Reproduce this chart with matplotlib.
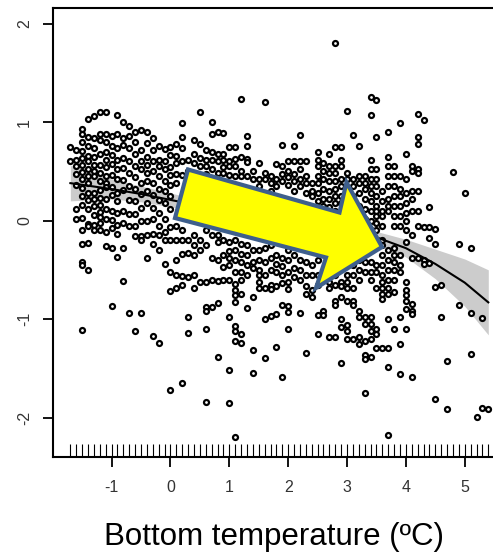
import numpy as np
import matplotlib.pyplot as plt
from matplotlib.patches import Polygon
import matplotlib.transforms as mtrans

plt.rcParams['font.family'] = ['Liberation Sans', 'DejaVu Sans']

# partial residuals, grouped by bottom temperature (0.1 degC columns)
temp = [-1.7, -1.6, -1.5, -1.4, -1.3, -1.2, -1.1, -1.0, -0.9, -0.8,
        -0.7, -0.6, -0.5, -0.4, -0.3, -0.2, -0.1, 0.0, 0.1, 0.2,
        0.3, 0.4, 0.5, 0.6, 0.7, 0.8, 0.9, 1.0, 1.1, 1.2,
        1.3, 1.4, 1.5, 1.6, 1.7, 1.8, 1.9, 2.0, 2.1, 2.2,
        2.3, 2.4, 2.5, 2.6, 2.7, 2.8, 2.9, 3.0, 3.1, 3.2,
        3.3, 3.4, 3.5, 3.6, 3.7, 3.8, 3.9, 4.0, 4.1, 4.2,
        4.3, 4.4, 4.5, 4.6, 4.7, 4.8, 4.9, 5.0, 5.1, 5.2,
        5.3, 5.4]
resid = [
    [0.75, 0.6],
    [0.72, 0.62, 0.55, 0.47, 0.36, 0.12, 0.02],
    [0.93, 0.88, 0.8, 0.71, 0.64, 0.56, 0.49, 0.42, 0.33, 0.25, 0.16, 0.03, -0.1, -0.24, -0.42, -0.45, -1.11],
    [1.03, 0.85, 0.76, 0.66, 0.6, 0.52, 0.45, 0.38, 0.28, 0.21, 0.12, -0.03, -0.05, -0.23, -0.5],
    [1.06, 0.84, 0.74, 0.65, 0.56, 0.5, 0.45, 0.28, 0.22, 0.15, 0.06, -0.04, -0.1],
    [1.1, 0.88, 0.82, 0.68, 0.56, 0.48, 0.4, 0.31, 0.23, 0.16, 0.09, 0.04, -0.02, -0.1],
    [1.1, 0.88, 0.8, 0.7, 0.62, 0.54, 0.45, 0.38, 0.34, 0.22, 0.12, 0.02, -0.12, -0.26],
    [0.86, 0.76, 0.67, 0.57, 0.46, 0.34, 0.26, 0.1, 0.01, -0.08, -0.28, -0.87],
    [1.07, 0.88, 0.74, 0.62, 0.52, 0.42, 0.28, 0.2, 0.08, -0.04, -0.14, -0.37],
    [1.0, 0.84, 0.77, 0.64, 0.53, 0.41, 0.31, 0.1, -0.02, -0.28, -0.61],
    [0.96, 0.86, 0.74, 0.6, 0.48, 0.35, 0.21, 0.07, -0.06, -0.94],
    [0.9, 0.8, 0.68, 0.55, 0.44, 0.32, 0.2, 0.07, -0.05, -0.16, -1.12],
    [0.92, 0.72, 0.6, 0.52, 0.38, 0.27, 0.13, 0.0, -0.16, -0.2, -0.94],
    [0.9, 0.79, 0.65, 0.56, 0.48, 0.4, 0.3, 0.18, 0.0, -0.15, -0.38],
    [0.84, 0.72, 0.6, 0.5, 0.38, 0.26, 0.13, 0.02, -0.14, -0.24, -1.17],
    [0.76, 0.62, 0.55, 0.45, 0.32, 0.21, 0.08, -0.05, -0.15, -0.3, -1.24],
    [0.73, 0.6, 0.52, 0.4, 0.3, 0.18, 0.02, -0.12, -0.2, -0.44],
    [0.75, 0.67, 0.54, 0.46, 0.36, 0.25, 0.12, -0.07, -0.2, -0.52, -0.71, -1.72],
    [0.78, 0.66, 0.58, 0.47, 0.38, -0.05, -0.2, -0.4, -0.55, -0.68],
    [0.99, 0.85, 0.74, 0.6, 0.46, -0.1, -0.2, -0.34, -0.56, -0.65, -1.65],
    [0.62, 0.5, -0.2, -0.33, -0.57, -0.98, -1.14],
    [0.82, 0.68, 0.58, -0.15, -0.25, -0.35, -0.55, -0.68],
    [1.1, 0.78, 0.64, 0.55, -0.2, -0.3, -0.62],
    [0.72, 0.62, 0.55, 0.47, 0.4, -0.1, -0.25, -0.62, -0.88, -0.92, -1.1, -1.84],
    [1.0, 0.88, 0.7, 0.62, 0.52, -0.15, -0.38, -0.6, -0.88],
    [0.9, 0.68, 0.6, 0.48, -0.15, -0.22, -0.4, -0.61, -0.84, -1.38],
    [0.89, 0.68, 0.62, 0.54, 0.48, -0.2, -0.35, -0.47, -0.6],
    [0.75, 0.6, 0.55, 0.46, -0.22, -0.31, -0.38, -0.45, -0.6, -0.98, -1.52, -1.85],
    [0.75, 0.63, 0.55, 0.45, -0.2, -0.3, -0.4, -0.52, -0.64, -0.7, -0.76, -0.83, -1.07, -1.12, -1.22, -2.2],
    [1.23, 0.65, 0.5, 0.45, -0.24, -0.34, -0.42, -0.52, -0.6, -0.75, -1.15, -1.24],
    [0.86, 0.76, 0.63, 0.59, 0.45, -0.25, -0.35, -0.45, -0.55, -0.89],
    [0.5, 0.42, -0.3, -0.42, -0.48, -0.78, -1.31, -1.55],
    [0.58, 0.42, 0.35, -0.3, -0.4, -0.5, -0.55, -0.62, -0.68],
    [1.2, 0.48, 0.42, -0.28, -0.42, -0.55, -0.68, -1.0, -1.39],
    [0.45, 0.38, 0.3, -0.25, -0.38, -0.5, -0.65, -0.69, -0.97],
    [0.57, 0.42, 0.35, -0.35, -0.44, -0.52, -0.66, -0.95, -1.28],
    [0.77, 0.55, 0.47, 0.4, -0.38, -0.46, -0.55, -0.63, -0.86, -1.59],
    [0.6, 0.5, 0.44, 0.36, -0.3, -0.4, -0.52, -0.62, -0.69, -0.87, -0.93, -1.1],
    [0.76, 0.6, 0.47, 0.4, 0.3, -0.35, -0.48, -0.57],
    [0.87, 0.6, 0.52, 0.42, 0.35, -0.4, -0.5, -0.6, -0.94],
    [0.6, 0.45, 0.38, 0.28, -0.42, -0.55, -0.66, -0.75, -1.34],
    [0.38, 0.3, 0.25, -0.45, -0.55, -0.7, -0.78],
    [0.7, 0.62, 0.55, 0.45, 0.38, 0.28, 0.2, -0.4, -0.55, -0.65, -0.96, -1.15],
    [0.58, 0.5, 0.42, 0.32, 0.22, 0.15, -0.55, -0.92, -0.96],
    [0.68, 0.55, 0.48, 0.4, 0.3, 0.22, 0.14, 0.05, -0.62, -0.68, -1.18],
    [1.8, 0.75, 0.55, 0.48, 0.4, 0.32, 0.25, 0.18, 0.1, -0.55, -0.65, -0.82, -0.86, -1.18],
    [0.75, 0.62, 0.55, 0.42, 0.35, 0.25, 0.18, -0.48, -0.62, -0.66, -0.78, -1.0, -1.08, -1.45],
    [1.11, 0.48, 0.42, 0.32, 0.15, -0.55, -0.62, -0.68, -0.82, -1.06, -1.12, -1.2],
    [0.87, 0.42, 0.35, 0.25, -0.45, -0.55, -0.68, -0.82, -0.86, -1.2],
    [0.76, 0.45, 0.38, 0.28, 0.15, -0.4, -0.5, -0.6, -0.92, -0.98, -1.18, -1.25],
    [0.45, 0.38, 0.32, 0.22, 0.12, 0.02, -0.42, -0.52, -0.98, -1.05, -1.22, -1.36, -1.41, -1.75],
    [1.25, 1.07, 0.62, 0.52, 0.42, 0.35, 0.28, 0.2, 0.1, 0.0, -0.1, -0.42, -0.52, -0.6, -0.98, -1.05, -1.12, -1.2, -1.38],
    [1.22, 0.85, 0.52, 0.42, 0.35, 0.25, 0.15, 0.1, 0.05, -0.02, -0.1, -0.2, -0.45, -0.52, -0.68, -1.1, -1.15, -1.29],
    [0.3, 0.2, 0.1, 0.05, -0.05, -0.2, -0.25, -0.35, -0.45, -0.55, -0.62, -0.68, -0.75, -0.8, -1.29],
    [0.9, 0.65, 0.55, 0.45, 0.35, 0.22, 0.15, 0.1, -0.3, -0.4, -0.5, -0.6, -0.68, -0.75, -1.0, -1.29, -1.49, -2.18],
    [0.55, 0.45, 0.35, 0.25, 0.15, 0.05, -0.05, -0.28, -0.35, -0.42, -0.5, -0.6, -0.72, -1.1],
    [0.99, 0.45, 0.32, 0.25, 0.15, 0.05, -0.05, -0.35, -0.45, -0.52, -0.98, -1.25, -1.56],
    [0.68, 0.42, 0.28, 0.18, 0.08, 0.0, -0.1, -0.22, -0.62, -0.7, -0.76, -0.82, -0.9, -1.1],
    [0.55, 0.5, 0.3, 0.22, 0.1, -0.15, -0.38, -0.85, -0.92, -0.95, -1.59],
    [1.08, 0.85, 0.78, 0.52, 0.48, 0.3, 0.1, -0.05, -0.38],
    [1.02, -0.07, -0.4, -0.44],
    [0.14, -0.07, -0.18, -0.43],
    [-0.09, -0.24, -0.67, -1.81],
    [-0.65, -0.98],
    [-1.43, -1.91],
    [0.49],
    [-0.24, -0.86],
    [0.28],
    [-0.28, -0.94, -1.35],
    [-1.99],
    [-0.99, -1.9],
    [-1.91],
]

# fitted smooth and half width of its confidence band
fit_x = [-1.7, -1.0, -0.5, 0.0, 0.5, 1.0, 1.5, 2.0, 2.5, 3.0, 3.5, 4.0, 4.5, 5.0, 5.4]
fit_y = [0.38, 0.32, 0.27, 0.21, 0.15, 0.10, 0.04, -0.01, -0.06, -0.11, -0.17, -0.28, -0.44, -0.63, -0.83]
fit_se = [0.18, 0.10, 0.08, 0.07, 0.06, 0.05, 0.05, 0.05, 0.05, 0.05, 0.06, 0.09, 0.15, 0.24, 0.33]

x = np.concatenate([[t] * len(r) for t, r in zip(temp, resid)])
y = np.concatenate(resid)
fit_x = np.array(fit_x)
fit_y = np.array(fit_y)
fit_se = np.array(fit_se)

W, H = 493, 558
fig = plt.figure(figsize=(W / 100, H / 100), dpi=100)
ax = fig.add_axes([53.3 / W, 1 - 457 / H, 1 - 53.3 / W, (457 - 7.8) / H])

ax.fill_between(fit_x, fit_y - fit_se, fit_y + fit_se, color='#cccccc', lw=0)
ax.plot(x, y, 'o', ms=3.6, mfc='white', mec='black', mew=1.6)
ax.plot(fit_x, fit_y, color='black', lw=1.5)

# rug
tr = mtrans.blended_transform_factory(ax.transData, ax.transAxes)
ax.vlines(np.unique(x), 0, 13 / 449, transform=tr, color='black', lw=0.8)

ax.set_xlim(-1.99, 5.48)
ax.set_ylim(-2.40, 2.16)
ax.set_xticks([-1, 0, 1, 2, 3, 4, 5])
ax.set_yticks([-2, -1, 0, 1, 2])
ax.set_xticklabels(['-1', '0', '1', '2', '3', '4', '5'])
ax.set_yticklabels(['-2', '-1', '0', '1', '2'], rotation=90, va='center')
ax.tick_params(length=7.2, width=1.3, labelsize=11.5, labelcolor='#333333')
ax.tick_params(axis='x', pad=9)
ax.tick_params(axis='y', pad=8)
for s in ['left', 'bottom', 'top']:
    ax.spines[s].set_linewidth(1.5)
ax.spines['right'].set_visible(False)

fig.text(273.9 / W, 1 - 537 / H, 'Bottom temperature (\u00baC)', ha='center', va='center',
         fontsize=22.5, color='black')

# highlight arrow (pixel positions on the figure)
arrow_px = [(188, 169.5), (339.5, 212.5), (346.5, 182.3), (382, 247),
            (316, 288), (326, 257.5), (175, 218)]
arrow_fig = [(px / W, 1 - py / H) for px, py in arrow_px]
fig.add_artist(Polygon(arrow_fig, closed=True, transform=fig.transFigure,
                       facecolor='#ffff00', edgecolor='#3e5f8c', lw=3, joinstyle='miter'))

fig.savefig('out.png', dpi=100)
